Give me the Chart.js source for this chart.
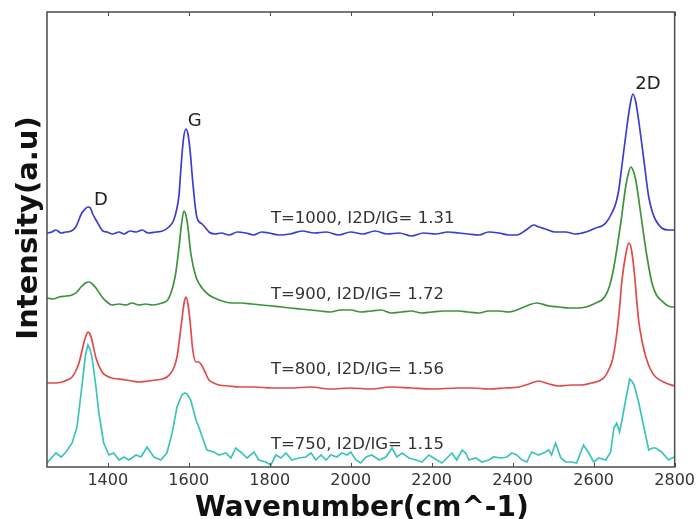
<!DOCTYPE html>
<html>
<head>
<meta charset="utf-8">
<title>Raman spectra</title>
<script src="https://cdn.jsdelivr.net/npm/chart.js@4.4.1/dist/chart.umd.min.js"></script>
<style>
  html, body { margin: 0; padding: 0; background: #fff; }
  #wrap { width: 699px; height: 519px; }
</style>
</head>
<body>
<div id="wrap"><canvas id="ramanChart" width="699" height="519"></canvas></div>
<script>
// x axis ticks (wavenumber, cm^-1)
const xTicks = [1400, 1600, 1800, 2000, 2200, 2400, 2600, 2800];

// T=1000 (blue)
const w1000 = [1250, 1262, 1272, 1285, 1297, 1310, 1321, 1336, 1344, 1351, 1357, 1363, 1371, 1378, 1388, 1398, 1412, 1428, 1440, 1455, 1470, 1485, 1500, 1519, 1535, 1551, 1562, 1570, 1576, 1581, 1587, 1593, 1598, 1603, 1610, 1620, 1633, 1642, 1650, 1665, 1680, 1700, 1720, 1741, 1760, 1780, 1798, 1823, 1850, 1880, 1910, 1940, 1970, 2000, 2030, 2060, 2090, 2120, 2150, 2180, 2210, 2240, 2267, 2290, 2317, 2340, 2366, 2390, 2410, 2433, 2452, 2465, 2481, 2505, 2531, 2555, 2581, 2605, 2620, 2630, 2645, 2655, 2662, 2670, 2682, 2690, 2697, 2704, 2711, 2724, 2736, 2745, 2753, 2768, 2785, 2800];
const i1000 = [234, 235, 237, 234, 235, 236, 240, 254, 258, 260, 259, 253, 247, 242, 236, 235, 233, 235, 233, 236, 235, 237, 234, 235, 236, 240, 246, 257, 272, 300, 328, 338, 333, 318, 285, 250, 243, 239, 235, 233, 234, 232, 235, 234, 232, 235, 234, 232, 233, 236, 234, 235, 232, 235, 233, 236, 233, 234, 231, 234, 233, 235, 234, 233, 232, 235, 234, 232, 232, 237, 242, 240, 238, 235, 235, 233, 235, 239, 241, 244, 254, 264, 277, 302, 340, 362, 373, 365, 347, 307, 270, 255, 247, 239, 237, 237];

// T=900 (green)
const w900 = [1250, 1265, 1280, 1297, 1312, 1324, 1334, 1345, 1354, 1362, 1371, 1386, 1398, 1410, 1428, 1445, 1460, 1477, 1494, 1510, 1534, 1548, 1556, 1563, 1568, 1576, 1582, 1588, 1593, 1598, 1605, 1618, 1633, 1650, 1675, 1707, 1730, 1756, 1780, 1806, 1830, 1850, 1875, 1900, 1925, 1950, 1975, 2000, 2025, 2050, 2075, 2100, 2125, 2150, 2175, 2200, 2230, 2267, 2290, 2317, 2340, 2366, 2390, 2410, 2440, 2460, 2490, 2515, 2539, 2560, 2581, 2605, 2620, 2630, 2640, 2650, 2660, 2667, 2679, 2686, 2692, 2698, 2704, 2716, 2729, 2744, 2755, 2766, 2780, 2793, 2800];
const i900 = [169, 168, 170, 171, 172, 175, 180, 184, 185, 183, 179, 170, 165, 162, 163, 162, 164, 162, 163, 162, 164, 167, 174, 184, 194, 220, 242, 256, 252, 240, 214, 190, 179, 172, 167, 164, 164, 163, 162, 161, 160, 159, 158, 157, 156, 155, 157, 157, 155, 156, 157, 154, 155, 156, 154, 155, 156, 156, 155, 154, 156, 156, 155, 157, 162, 164, 161, 160, 159, 159, 160, 164, 167, 172, 182, 200, 225, 244, 280, 294, 300, 296, 287, 254, 217, 184, 172, 167, 162, 160, 160];

// T=800 (red)
const w800 = [1250, 1270, 1287, 1300, 1312, 1321, 1329, 1341, 1347, 1351, 1356, 1361, 1371, 1386, 1398, 1410, 1428, 1445, 1460, 1477, 1500, 1519, 1535, 1546, 1556, 1564, 1571, 1576, 1583, 1589, 1593, 1598, 1603, 1610, 1618, 1624, 1630, 1638, 1650, 1662, 1675, 1700, 1724, 1760, 1806, 1850, 1900, 1950, 2000, 2050, 2100, 2150, 2200, 2267, 2300, 2341, 2380, 2415, 2440, 2464, 2490, 2514, 2545, 2571, 2595, 2613, 2627, 2637, 2647, 2655, 2663, 2670, 2680, 2687, 2693, 2699, 2711, 2720, 2729, 2740, 2753, 2778, 2800];
const i800 = [84, 84, 85, 87, 90, 96, 104, 124, 132, 135, 133, 127, 109, 95, 91, 89, 88, 87, 86, 85, 86, 87, 88, 90, 94, 100, 110, 124, 147, 165, 170, 163, 147, 117, 105, 105, 103, 97, 87, 84, 82, 81, 80, 80, 79, 79, 80, 78, 79, 78, 80, 79, 78, 79, 79, 78, 79, 80, 83, 86, 83, 81, 82, 82, 84, 86, 90, 97, 108, 127, 155, 187, 214, 224, 218, 200, 147, 125, 110, 98, 90, 84, 81];

// T=750 (cyan)
const w750 = [1250, 1272, 1285, 1297, 1312, 1324, 1336, 1345, 1351, 1356, 1361, 1371, 1378, 1390, 1403, 1415, 1428, 1440, 1452, 1470, 1482, 1497, 1514, 1531, 1546, 1559, 1571, 1583, 1590, 1596, 1605, 1618, 1625, 1630, 1645, 1662, 1675, 1692, 1704, 1716, 1731, 1744, 1761, 1773, 1790, 1803, 1815, 1828, 1840, 1855, 1872, 1889, 1902, 1914, 1927, 1939, 1951, 1966, 1978, 1991, 2000, 2013, 2025, 2038, 2052, 2070, 2087, 2102, 2114, 2127, 2144, 2161, 2176, 2193, 2205, 2225, 2238, 2250, 2262, 2275, 2284, 2292, 2309, 2324, 2341, 2353, 2371, 2386, 2398, 2410, 2423, 2435, 2447, 2464, 2481, 2489, 2496, 2506, 2519, 2531, 2546, 2558, 2575, 2588, 2600, 2613, 2630, 2642, 2650, 2657, 2664, 2670, 2679, 2689, 2694, 2700, 2711, 2724, 2736, 2745, 2753, 2768, 2785, 2798];
const i750 = [4, 14, 10, 15, 24, 40, 80, 112, 122, 118, 110, 80, 54, 24, 12, 14, 7, 10, 7, 12, 10, 20, 10, 7, 14, 34, 60, 72, 74, 73, 67, 47, 40, 34, 17, 15, 12, 14, 9, 19, 14, 9, 15, 7, 5, 2, 12, 9, 14, 7, 9, 10, 14, 7, 12, 7, 12, 10, 14, 12, 15, 7, 4, 10, 12, 7, 10, 19, 10, 14, 9, 7, 5, 12, 9, 4, 9, 14, 7, 17, 14, 7, 9, 5, 7, 10, 9, 10, 14, 12, 7, 5, 15, 12, 15, 17, 12, 24, 9, 5, 5, 4, 22, 14, 5, 9, 7, 15, 39, 44, 35, 47, 67, 88, 86, 82, 65, 40, 17, 19, 19, 15, 7, 10];

// text placed in data coordinates
const peakLabels = ["D", "G", "2D"];
const peakX = [1383, 1615, 2734];
const peakY = [267, 346, 383];
const sampleLabels = ["T=1000, I2D/IG= 1.31", "T=900, I2D/IG= 1.72", "T=800, I2D/IG= 1.56", "T=750, I2D/IG= 1.15"];
const sampleX = [1803, 1803, 1803, 1803];
const sampleY = [248, 172, 97, 22];

function toPoints(xs, ys) {
  return xs.map((x, i) => ({ x: x, y: ys[i] }));
}

function series(label, xs, ys, color, smooth) {
  return {
    label: label,
    data: toPoints(xs, ys),
    borderColor: color,
    borderWidth: 1.7,
    pointRadius: 0,
    fill: false,
    tension: 0,
    cubicInterpolationMode: smooth ? "monotone" : "default",
  };
}

// frame, inward ticks, axis titles and annotations
const decorations = {
  id: "decorations",
  afterDraw(chart) {
    const ctx = chart.ctx;
    const area = chart.chartArea;
    const xs = chart.scales.x;
    const ys = chart.scales.y;
    ctx.save();

    ctx.strokeStyle = "#4a4a4a";
    ctx.lineWidth = 1.5;
    ctx.strokeRect(area.left, area.top, area.right - area.left, area.bottom - area.top);

    ctx.lineWidth = 1;
    ctx.beginPath();
    xTicks.forEach((v) => {
      const px = Math.round(xs.getPixelForValue(v)) + 0.5;
      ctx.moveTo(px, area.bottom);
      ctx.lineTo(px, area.bottom - 4);
      ctx.moveTo(px, area.top);
      ctx.lineTo(px, area.top + 4);
    });
    ctx.stroke();

    ctx.fillStyle = "#111";
    ctx.font = "bold 28px 'DejaVu Sans'";
    ctx.textAlign = "center";
    ctx.textBaseline = "alphabetic";
    ctx.fillText("Wavenumber(cm^-1)", (area.left + area.right) / 2 + 1, 516);

    ctx.save();
    ctx.translate(37, 228);
    ctx.rotate(-Math.PI / 2);
    ctx.font = "bold 29px 'DejaVu Sans'";
    ctx.fillText("Intensity(a.u)", 0, 0);
    ctx.restore();

    ctx.fillStyle = "#222";
    ctx.font = "18px 'DejaVu Sans'";
    ctx.textBaseline = "middle";
    peakLabels.forEach((t, i) => {
      ctx.fillText(t, xs.getPixelForValue(peakX[i]), ys.getPixelForValue(peakY[i]));
    });

    ctx.fillStyle = "#333";
    ctx.font = "16.5px 'DejaVu Sans'";
    ctx.textAlign = "left";
    sampleLabels.forEach((t, i) => {
      ctx.fillText(t, xs.getPixelForValue(sampleX[i]), ys.getPixelForValue(sampleY[i]));
    });

    ctx.restore();
  },
};

const ctx = document.getElementById("ramanChart").getContext("2d");

const ramanChart = new Chart(ctx, {
  type: "line",
  data: {
    datasets: [
      series("T=1000", w1000, i1000, "#3c3cd2", true),
      series("T=900", w900, i900, "#3e933e", true),
      series("T=800", w800, i800, "#e04a4a", true),
      series("T=750", w750, i750, "#3cc3bb", false),
    ],
  },
  options: {
    responsive: false,
    animation: false,
    events: [],
    layout: { padding: { left: 47, right: 22, top: 12, bottom: 0 } },
    plugins: {
      legend: { display: false },
      tooltip: { enabled: false },
    },
    scales: {
      x: {
        type: "linear",
        min: 1250,
        max: 2800,
        afterBuildTicks: (scale) => {
          scale.ticks = xTicks.map((v) => ({ value: v }));
        },
        afterFit: (scale) => {
          scale.height = 52;
        },
        grid: { display: false, drawTicks: false },
        border: { display: false },
        ticks: {
          color: "#333",
          padding: 4,
          maxRotation: 0,
          autoSkip: false,
          font: { family: "DejaVu Sans", size: 16 },
          callback: (v) => String(v),
        },
      },
      y: {
        type: "linear",
        display: false,
        min: 0,
        max: 455,
      },
    },
  },
  plugins: [decorations],
});
</script>
</body>
</html>
